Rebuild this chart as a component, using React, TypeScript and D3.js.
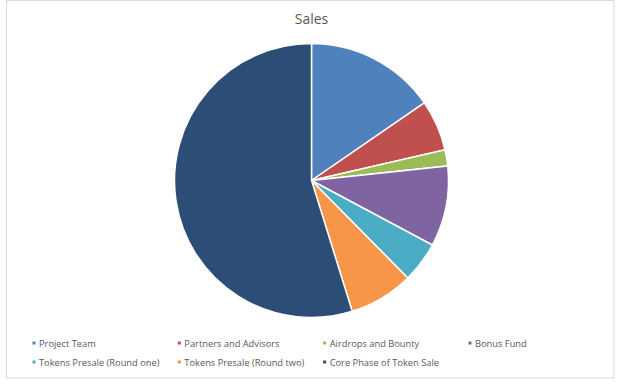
import React from 'react';
import * as d3 from 'd3';

const categories = [
  'Project Team',
  'Partners and Advisors',
  'Airdrops and Bounty',
  'Bonus Fund',
  'Tokens Presale (Round one)',
  'Tokens Presale (Round two)',
  'Core Phase of Token Sale',
];
const shares = [15.4, 6.0, 1.9, 9.5, 4.8, 7.6, 54.8];
const colors = ['#4F81BD', '#C0504D', '#9BBB59', '#8064A2', '#4BACC6', '#F79646', '#2C4D75'];
const title = 'Sales';

interface ISlice {
  name: string;
  value: number;
  color: string;
}

const App = () => {
  const width = 624;
  const height = 388;
  const cx = 311.5;
  const cy = 180.5;
  const radius = 137;
  const font = "'Open Sans', 'Noto Sans', sans-serif";

  const data: ISlice[] = categories.map((name, i) => ({ name, value: shares[i], color: colors[i] }));

  const pie = d3.pie<ISlice>().value(d => d.value).sort(null);
  const arc = d3.arc<d3.PieArcDatum<ISlice>>().innerRadius(0).outerRadius(radius);
  const arcs = pie(data);

  // legend: 4 columns, 2 rows
  const colX = d3.scalePoint<number>().domain([0, 1, 2, 3]).range([34, 470]);
  const rowY = d3.scalePoint<number>().domain([0, 1]).range([343, 362]);

  return (
    <div style={{ position: 'absolute', left: 0, top: 0 }}>
      <svg width={width} height={height} style={{ display: 'block', background: '#fff' }}>
        <rect x={6.5} y={0.5} width={607.5} height={377.5} fill="#fff" stroke="#d9d9d9" strokeWidth={1} />
        <text x={cx} y={24} textAnchor="middle" fontFamily={font} fontSize={14} fill="#595959">
          {title}
        </text>
        <g transform={`translate(${cx},${cy})`}>
          {arcs.map(a => (
            <path key={a.data.name} d={arc(a) as string} fill={a.data.color} stroke="#fff" strokeWidth={1.5} />
          ))}
        </g>
        {data.map((d, i) => {
          const x = colX(i % 4) as number;
          const y = rowY(Math.floor(i / 4)) as number;
          return (
            <g key={d.name} transform={`translate(${x},${y})`}>
              <rect x={-1.5} y={-1.5} width={3} height={3} fill={d.color} />
              <text x={5} y={3.5} fontFamily={font} fontSize={9.3} fill="#595959">
                {d.name}
              </text>
            </g>
          );
        })}
      </svg>
    </div>
  );
};

export default App;
